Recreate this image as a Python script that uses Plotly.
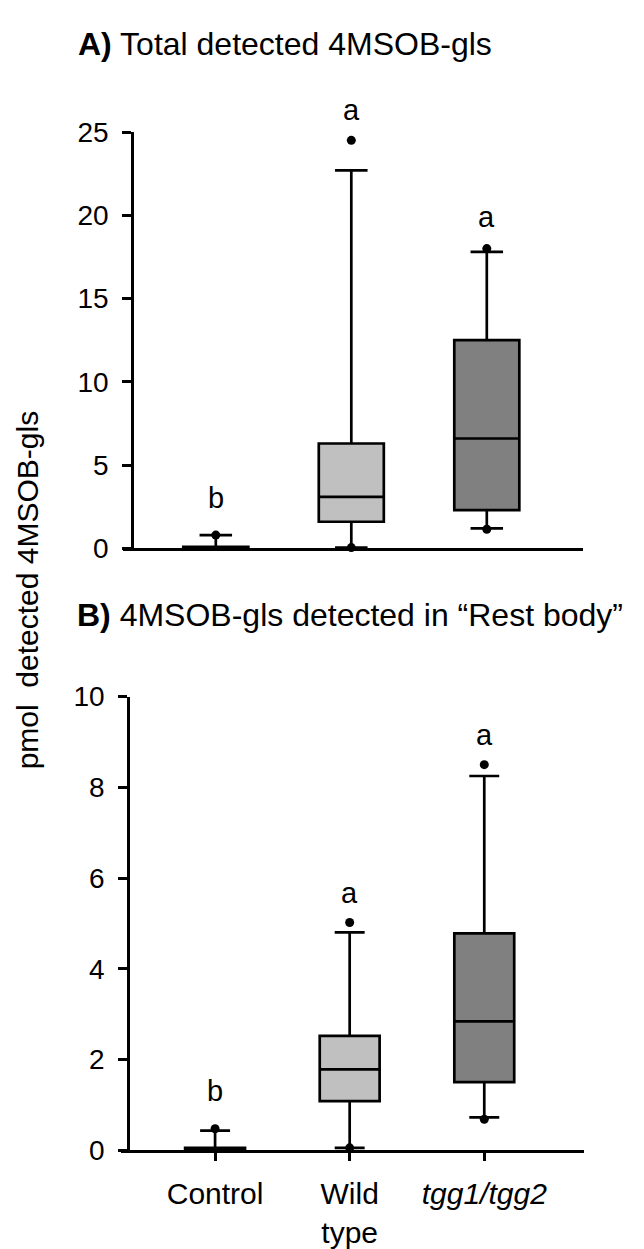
import plotly.graph_objects as go

W, H = 644, 1249

categories = ["Control", "Wild type", "tgg1/tgg2"]
tick_labels = ["Control", "Wild<br>type", "<i>tgg1/tgg2</i>"]
fill_colors = ["#ffffff", "#c0c0c0", "#808080"]

# Panel A: Total detected 4MSOB-gls
a_q1 = [0.0, 1.6, 2.3]
a_median = [0.03, 3.1, 6.6]
a_q3 = [0.1, 6.3, 12.5]
a_low = [0.0, 0.05, 1.2]
a_high = [0.8, 22.7, 17.8]
a_dot_cat = ["Control", "Wild type", "Wild type", "tgg1/tgg2", "tgg1/tgg2"]
a_dot_y = [0.8, 0.05, 24.5, 1.15, 18.0]
a_letters = ["b", "a", "a"]
a_letter_y = [3.0, 26.3, 19.9]

# Panel B: 4MSOB-gls detected in "Rest body"
b_q1 = [0.0, 1.08, 1.5]
b_median = [0.02, 1.78, 2.84]
b_q3 = [0.05, 2.52, 4.78]
b_low = [0.0, 0.05, 0.72]
b_high = [0.43, 4.8, 8.25]
b_dot_cat = ["Control", "Wild type", "Wild type", "tgg1/tgg2", "tgg1/tgg2"]
b_dot_y = [0.47, 0.05, 5.02, 0.68, 8.5]
b_letters = ["b", "a", "a"]
b_letter_y = [1.3, 5.67, 9.15]

FONT = "Arial, Liberation Sans, sans-serif"
FS = 28

# axis geometry (paper fractions)
A_YDOM = [1 - 547 / H, 1 - 120 / H]
A_YRANGE = [0, 25]
B_YDOM = [1 - 1164 / H, 1 - 699 / H]
B_YRANGE = [0, 10]

fig = go.Figure()
letter_annotations = []


def to_paper(v, dom, rng):
    return dom[0] + (v - rng[0]) / (rng[1] - rng[0]) * (dom[1] - dom[0])


def add_panel(xa, ya, q1, med, q3, low, high, dcat, dy, letters, ly, width,
              ydom, yrng):
    for i, cat in enumerate(categories):
        fig.add_trace(go.Box(
            x=[cat], q1=[q1[i]], median=[med[i]], q3=[q3[i]],
            lowerfence=[low[i]], upperfence=[high[i]],
            fillcolor=fill_colors[i], line=dict(color="black", width=2.7),
            width=width, whiskerwidth=0.5, boxpoints=False,
            showlegend=False, hoverinfo="skip", xaxis=xa, yaxis=ya))
    fig.add_trace(go.Scatter(
        x=dcat, y=dy, mode="markers", marker=dict(color="black", size=9),
        showlegend=False, cliponaxis=False, hoverinfo="skip",
        xaxis=xa, yaxis=ya))
    for cat, txt, yv in zip(categories, letters, ly):
        letter_annotations.append(dict(
            x=cat, y=to_paper(yv, ydom, yrng), xref=xa, yref="paper",
            text=txt, showarrow=False, xanchor="center", yanchor="middle",
            font=dict(family=FONT, size=29, color="black")))


add_panel("x", "y", a_q1, a_median, a_q3, a_low, a_high,
          a_dot_cat, a_dot_y, a_letters, a_letter_y, 0.48, A_YDOM, A_YRANGE)
add_panel("x2", "y2", b_q1, b_median, b_q3, b_low, b_high,
          b_dot_cat, b_dot_y, b_letters, b_letter_y, 0.445, B_YDOM, B_YRANGE)

axis_common = dict(showgrid=False, zeroline=False, showline=True,
                   linecolor="black", linewidth=2.7,
                   tickfont=dict(family=FONT, size=FS, color="black"))

fig.update_layout(
    width=W, height=H,
    margin=dict(l=0, r=0, t=0, b=0),
    paper_bgcolor="white", plot_bgcolor="white",
    boxmode="overlay",
    font=dict(family=FONT, color="black"),
    xaxis=dict(domain=[123 / W, 583 / W], anchor="y", type="category",
               categoryarray=categories, range=[-0.685, 2.710],
               ticks="", showticklabels=False, **axis_common),
    yaxis=dict(domain=A_YDOM, anchor="free",
               position=132 / W, range=A_YRANGE, tickvals=[0, 5, 10, 15, 20, 25],
               ticks="outside", ticklen=9, tickwidth=2.7, tickcolor="black",
               ticklabelstandoff=8, **axis_common),
    xaxis2=dict(domain=[121 / W, 584 / W], anchor="y2", type="category",
                categoryarray=categories, range=[-0.699, 2.741],
                tickvals=categories, ticktext=tick_labels,
                ticks="outside", ticklen=8, tickwidth=2.7, tickcolor="black",
                ticklabelstandoff=7,
                **dict(axis_common, tickfont=dict(family=FONT, size=30, color="black"))),
    yaxis2=dict(domain=B_YDOM, anchor="free",
                position=128 / W, range=B_YRANGE, tickvals=[0, 2, 4, 6, 8, 10],
                ticks="outside", ticklen=9, tickwidth=2.7, tickcolor="black",
                ticklabelstandoff=8, **axis_common),
    annotations=letter_annotations + [
        dict(text="<b>A)</b> Total detected 4MSOB-gls", xref="paper", yref="paper",
             x=76 / W, y=1 - 30 / H, xanchor="left", yanchor="middle",
             showarrow=False, font=dict(family=FONT, size=32, color="black")),
        dict(text="<b>B)</b> 4MSOB-gls detected in \u201cRest body\u201d",
             xref="paper", yref="paper",
             x=75 / W, y=1 - 615 / H, xanchor="left", yanchor="middle",
             showarrow=False, font=dict(family=FONT, size=32, color="black")),
        dict(text="pmol&nbsp; detected 4MSOB-gls", xref="paper", yref="paper",
             x=27 / W, y=1 - 590 / H, xanchor="center", yanchor="middle",
             textangle=-90, showarrow=False,
             font=dict(family=FONT, size=30, color="black")),
    ],
)

fig.write_html("out.html")
